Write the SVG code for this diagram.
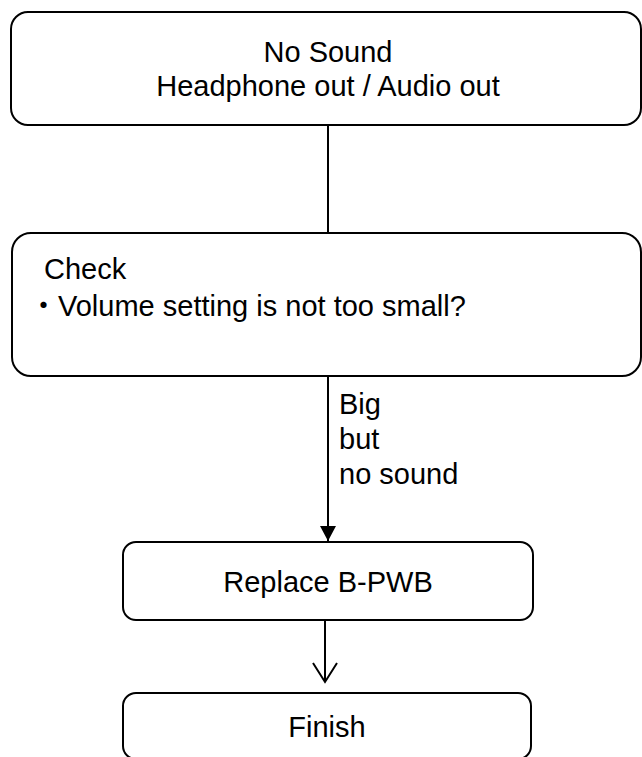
<svg xmlns="http://www.w3.org/2000/svg" width="642" height="757" viewBox="0 0 642 757">
<defs>
<style>
.box{fill:#fff;stroke:#000;stroke-width:2}
.t{font-family:"Liberation Sans",Arial,"Noto Sans CJK JP",sans-serif;font-size:29px;fill:#000}
.c{text-anchor:middle}
.ln{stroke:#000;stroke-width:2;fill:none}
</style>
<marker id="filled" markerWidth="16" markerHeight="16" refX="15" refY="8" orient="auto" markerUnits="userSpaceOnUse">
<path d="M0,0 L15,8 L0,16 Z" fill="#000"/>
</marker>
</defs>
<rect width="642" height="757" fill="#fff"/>
<g id="connectors">
<line class="ln" x1="328" y1="125" x2="328" y2="233"/>
<line class="ln" x1="328" y1="376" x2="328" y2="541" marker-end="url(#filled)"/>
<line class="ln" x1="325" y1="620" x2="325" y2="682"/>
<polyline class="ln" points="313,663 325,682 337,663"/>
<g class="t">
<text x="339" y="414">Big</text>
<text x="339" y="449">but</text>
<text x="339" y="484">no sound</text>
</g>
</g>
<g id="start">
<rect class="box" x="11" y="12" width="630" height="113" rx="17"/>
<text class="t c" x="328" y="62">No Sound</text>
<text class="t c" x="328" y="96">Headphone out / Audio out</text>
</g>
<g id="check">
<rect class="box" x="12" y="233" width="629" height="143" rx="19"/>
<text class="t" x="44" y="279">Check</text>
<text class="t" x="29" y="316">・Volume setting is not too small?</text>
</g>
<g id="replace">
<rect class="box" x="123" y="542" width="410" height="78" rx="13"/>
<text class="t c" x="328" y="592">Replace B-PWB</text>
</g>
<g id="finish">
<rect class="box" x="123" y="693" width="408" height="66" rx="13"/>
<text class="t c" x="327" y="737">Finish</text>
</g>
</svg>
